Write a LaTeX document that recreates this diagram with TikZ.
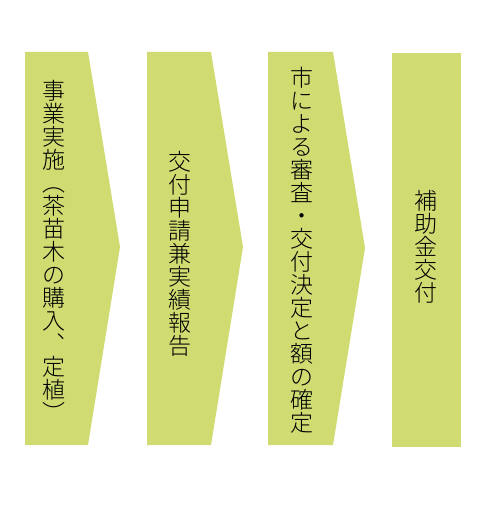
\documentclass[tikz,border=0pt]{standalone}
\usepackage{fontspec}
\newfontfamily\cjk{Noto Sans CJK JP Light}
\definecolor{leaf}{HTML}{D0DC72}
\tikzset{
  stage/.style={fill=leaf, draw=none},
  vtext/.style={font=\cjk\fontsize{23bp}{23bp}\selectfont, align=center, inner sep=0pt, text=black}
}
\begin{document}
\begin{tikzpicture}[x=1bp,y=-1bp]
\useasboundingbox (0,0) rectangle (500,517);
\fill[white] (0,0) rectangle (500,517);
\path[stage] (25,52) -- (88,52) -- (120,247) -- (88,445) -- (25,445) -- cycle;
\path[stage] (147,52) -- (211,52) -- (243,247) -- (211,445) -- (147,445) -- cycle;
\path[stage] (268,52) -- (333,52) -- (365,248) -- (333,445) -- (268,445) -- cycle;
\path[stage] (392,53) rectangle (461,447);
\node[vtext] (t1) at (54,251) {事\\業\\実\\施\\︵\\茶\\苗\\木\\の\\購\\入\\︑\\定\\植\\︶};
\node[vtext] (t2) at (180,254) {交\\付\\申\\請\\兼\\実\\績\\報\\告};
\node[vtext] (t3) at (302,250) {市\\に\\よ\\る\\審\\査\\・\\交\\付\\決\\定\\と\\額\\の\\確\\定};
\node[vtext] (t4) at (426,247) {補\\助\\金\\交\\付};
\end{tikzpicture}
\end{document}
